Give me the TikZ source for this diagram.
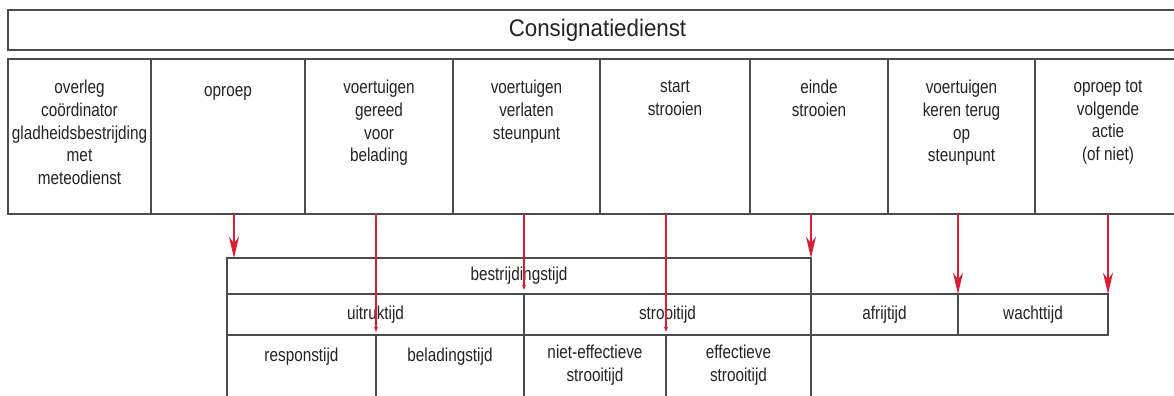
\documentclass[tikz,border=0pt]{standalone}
\usepackage{fontspec}
\setmainfont[FakeStretch=0.82]{Liberation Sans}
\newfontfamily\kopfont[FakeStretch=0.93]{Liberation Sans}
\usetikzlibrary{arrows.meta, positioning}

\definecolor{lijngrijs}{RGB}{75,75,75}
\definecolor{tekstgrijs}{RGB}{35,35,35}
\definecolor{pijlrood}{RGB}{218,28,52}

\begin{document}
\begin{tikzpicture}[x=0.75pt, y=-0.75pt,
    cel/.style={draw=lijngrijs, line width=1.2pt, inner sep=0pt, outer sep=0pt,
        text=tekstgrijs, font=\fontsize{14}{17}\selectfont},
    tekst/.style={text=tekstgrijs, font=\fontsize{14}{17}\selectfont, align=center,
        inner sep=0pt, execute at begin node=\strut},
    pijl/.style={draw=pijlrood, line width=1pt, -{Stealth[length=16pt, width=7.5pt, inset=5pt]}},
    pijlklein/.style={draw=pijlrood, line width=1pt, -{Stealth[length=4pt, width=3pt, inset=1pt]}}]

\useasboundingbox (0,0) rectangle (1174,396);
\clip (0,0) rectangle (1174,396);

% --- Kop ---
\node[cel, minimum width=884.25pt, minimum height=30pt, anchor=north west,
    font=\kopfont\fontsize{18}{22}\selectfont] (dienst) at (8,10) {Consignatiedienst};

% --- Gebeurtenissen (kolommen) ---
\foreach \nm/\a/\b in {c1/8/151, c2/151/305, c3/305/453, c4/453/600,
                       c5/600/750, c6/750/888, c7/888/1035, c8/1035/1181}
{
    \pgfmathsetmacro{\breedte}{(\b-\a)*0.75}
    \node[cel, minimum width=\breedte pt, minimum height=116.25pt, anchor=north west] (\nm) at (\a,59) {};
}

% tekst bovenin elke kolom
\foreach \nm/\txt in {c1/{overleg\\coördinator\\gladheidsbestrijding\\met\\meteodienst},
                      c2/oproep,
                      c3/{voertuigen\\gereed\\voor\\belading},
                      c4/{voertuigen\\verlaten\\steunpunt},
                      c5/{start\\strooien},
                      c6/{einde\\strooien},
                      c7/{voertuigen\\keren terug\\op\\steunpunt},
                      c8/{oproep tot\\volgende\\actie\\(of niet)}}
{
    \node[tekst, below=15.75pt of \nm.north] (\nm-tekst) {\txt};
}

% --- Tijden ---
\node[cel, minimum width=438pt, minimum height=27pt, anchor=north west] (bestrijding) at (227,258) {bestrijdingstijd};

% tweede rij
\foreach \nm/\a/\b/\txt in {uitruk/227/524/uitruktijd, strooi/524/811/strooitijd,
                            afrij/811/958/afrijtijd, wacht/958/1108/wachttijd}
{
    \pgfmathsetmacro{\breedte}{(\b-\a)*0.75}
    \node[cel, minimum width=\breedte pt, minimum height=30.75pt, anchor=north west] (\nm) at (\a,294) {\txt};
}

% derde rij (loopt onder de rand door)
\foreach \nm/\a/\b/\txt in {respons/227/376/responstijd, belading/376/524/beladingstijd,
                            nieteff/524/666/{niet-effectieve\\strooitijd},
                            eff/666/811/{effectieve\\strooitijd}}
{
    \pgfmathsetmacro{\breedte}{(\b-\a)*0.75}
    \node[cel, minimum width=\breedte pt, minimum height=60pt, anchor=north west] (\nm) at (\a,335) {};
    \node[tekst, below=7.5pt of \nm.north] (\nm-tekst) {\txt};
}

% --- Pijlen ---
\coordinate (t1) at (234,258);
\coordinate (t2) at (376,332);
\coordinate (t3) at (524,290);
\coordinate (t4) at (666,332);
\coordinate (t5) at (811,258);
\coordinate (t6) at (958,294);
\coordinate (t7) at (1108,294);

\draw[pijl] (t1 |- c2.south) -- (t1);
\draw[pijlklein] (t2 |- c3.south) -- (t2);
\draw[pijlklein] (t3 |- c4.south) -- (t3);
\draw[pijlklein] (t4 |- c5.south) -- (t4);
\draw[pijl] (t5 |- c6.south) -- (t5);
\draw[pijl] (t6 |- c7.south) -- (t6);
\draw[pijl] (t7 |- c8.south) -- (t7);

\end{tikzpicture}
\end{document}
